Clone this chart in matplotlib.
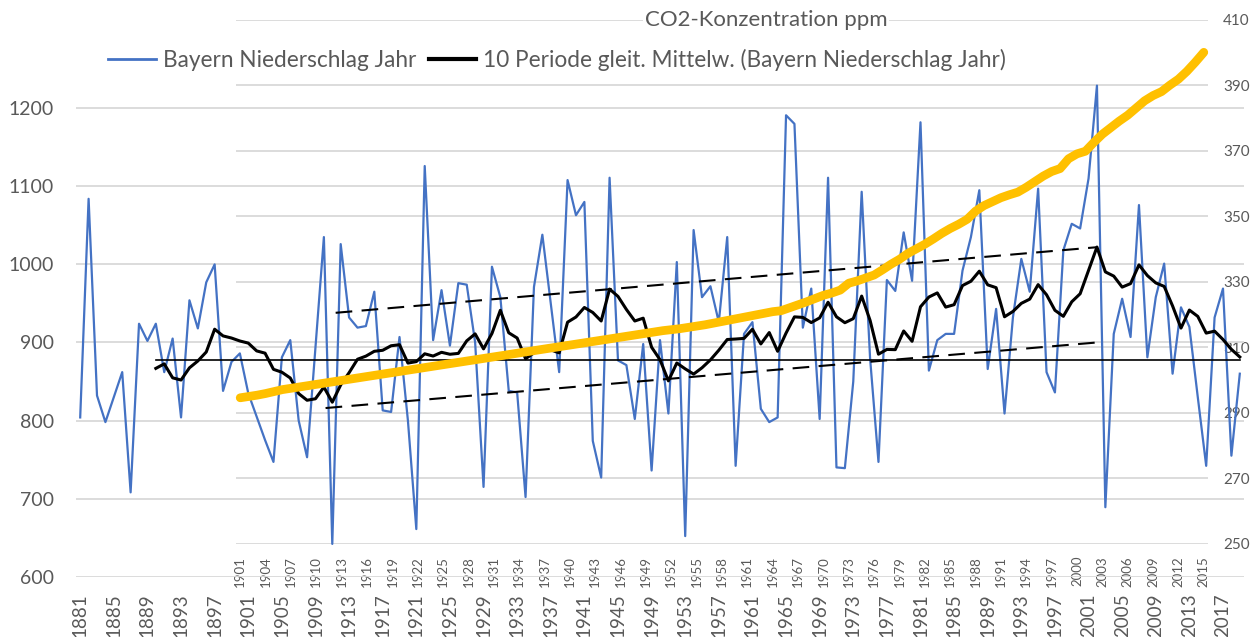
import matplotlib
matplotlib.use("Agg")
import matplotlib.pyplot as plt
import numpy as np
import pandas as pd

plt.rcParams['font.family'] = ['Lato', 'DejaVu Sans']

# Niederschlag Bayern, Jahressumme (mm), 1881-2019
jahre = np.arange(1881, 2020)
niederschlag = [
    804, 1084, 832, 798, 830, 862, 708, 924, 902, 924,      # 1881-1890
    862, 905, 804, 954, 918, 977, 1000, 838, 875, 886,      # 1891-1900
    835, 805, 775, 747, 881, 903, 800, 753, 894, 1035,      # 1901-1910
    642, 1026, 932, 919, 921, 965, 813, 811, 907, 800,      # 1911-1920
    661, 1126, 903, 967, 896, 976, 974, 900, 715, 997,      # 1921-1930
    958, 838, 836, 702, 971, 1038, 950, 862, 1108, 1063,    # 1931-1940
    1080, 774, 727, 1111, 877, 871, 802, 898, 736, 903,     # 1941-1950
    809, 1003, 652, 1044, 958, 972, 926, 1035, 742, 911,    # 1951-1960
    926, 815, 798, 804, 1191, 1180, 919, 969, 802, 1111,    # 1961-1970
    740, 739, 850, 1093, 880, 747, 980, 966, 1041, 979,     # 1971-1980
    1182, 864, 903, 911, 911, 992, 1035, 1095, 866, 943,    # 1981-1990
    809, 932, 1007, 965, 1097, 862, 836, 1018, 1052, 1046,  # 1991-2000
    1110, 1229, 689, 911, 956, 907, 1076, 881, 958, 1001,   # 2001-2010
    860, 945, 920, 830, 742, 932, 969, 755, 860,            # 2011-2019
]

# CO2-Konzentration (ppm), 1901-2015
co2_jahre = np.arange(1901, 2016)
co2 = [
    294.5, 294.9, 295.3, 295.8, 296.4, 297.0, 297.4, 297.8, 298.2, 298.6,
    299.0, 299.4, 299.8, 300.2, 300.6, 301.0, 301.4, 301.8, 302.2, 302.6,
    303.0, 303.4, 303.8, 304.2, 304.6, 305.0, 305.4, 305.8, 306.2, 306.6,
    307.0, 307.4, 307.8, 308.2, 308.6, 309.0, 309.4, 309.8, 310.2, 310.6,
    311.0, 311.4, 311.8, 312.2, 312.6, 313.0, 313.4, 313.8, 314.2, 314.6,
    315.0, 315.3, 315.6, 316.0, 316.4, 316.8, 317.3, 317.8, 318.3, 318.8,
    319.3, 319.8, 320.3, 320.8, 321.1, 322.0, 322.9, 323.8, 324.8, 325.8,
    326.5, 327.4, 329.5, 330.2, 331.1, 332.0, 333.6, 335.3, 336.8, 338.6,
    340.0, 341.4, 343.0, 344.7, 346.2, 347.5, 349.0, 351.5, 353.2, 354.4,
    355.6, 356.5, 357.3, 358.8, 360.5, 362.2, 363.6, 364.5, 367.5, 369.0,
    369.8, 372.5, 375.0, 377.0, 379.0, 380.8, 383.0, 385.2, 386.8, 388.0,
    390.0, 391.8, 394.2, 397.0, 400.0,
]

# eingezeichnete Hilfslinien
mittel_jahre = [1890, 2019]
mittel_wert = 877
trend_oben_jahre = [1911.4, 2002]
trend_oben_werte = [938, 1022]
trend_unten_jahre = [1910.2, 2002]
trend_unten_werte = [816, 900]

gleit_mittel = pd.Series(niederschlag, index=jahre).rolling(10).mean()

W, H = 1253, 637
grau = '#595959'
gitter = '#d9d9d9'

fig = plt.figure(figsize=(W / 100, H / 100), dpi=100)

# CO2-Diagramm (hinten: Gitter und Achsen)
ax2 = fig.add_axes([236 / W, (H - 543.5) / H, 972 / W, (543.5 - 19.6) / H])
ax2.set_xlim(1900.5, 2015.5)
ax2.set_ylim(250, 410)
ax2.set_yticks(np.arange(250, 411, 20))
ax2.yaxis.tick_right()
ax2.set_xticks(co2_jahre[::3])
ax2.set_xticklabels([str(j) for j in co2_jahre[::3]], rotation=90)
ax2.tick_params(axis='x', length=0, pad=9, labelsize=9.5, labelcolor=grau)
ax2.tick_params(axis='y', length=0, pad=11, labelsize=11, labelcolor=grau)
ax2.grid(axis='y', color=gitter, lw=1.3)
for s in ax2.spines.values():
    s.set_visible(False)

# Niederschlag (vorne)
ax = fig.add_axes([76 / W, (H - 576.7) / H, 1168 / W, (576.7 - 69.2) / H])
ax.patch.set_alpha(0)
ax.set_xlim(1880.5, 2019.5)
ax.set_ylim(600, 1250)
ax.set_yticks(np.arange(600, 1201, 100))
ax.set_xticks(jahre[::4])
ax.set_xticklabels([str(j) for j in jahre[::4]], rotation=90)
ax.tick_params(axis='x', length=0, pad=12, labelsize=13.5, labelcolor=grau)
ax.tick_params(axis='y', length=0, pad=16, labelsize=14, labelcolor=grau)
ax.grid(axis='y', color=gitter, lw=1.3)
ax.set_axisbelow(True)
for s in ax.spines.values():
    s.set_visible(False)

l1, = ax.plot(jahre, niederschlag, color='#4472C4', lw=1.6, zorder=2,
              label='Bayern Niederschlag Jahr')
l2, = ax.plot(jahre, gleit_mittel, color='black', lw=2.2, zorder=4,
              label='10 Periode gleit. Mittelw. (Bayern Niederschlag Jahr)')
ax.plot(mittel_jahre, [mittel_wert, mittel_wert], color='black', lw=1.2, zorder=4)
ax.plot(trend_oben_jahre, trend_oben_werte, color='black', lw=1.5,
        dashes=(8, 4.5), zorder=4)
ax.plot(trend_unten_jahre, trend_unten_werte, color='black', lw=1.5,
        dashes=(8, 4.5), zorder=4)

# CO2-Linie oben drauf
ax.plot(co2_jahre, co2, color='#FFC000', lw=6.3, solid_capstyle='round',
        transform=ax2.transData, clip_on=False, zorder=6)

fig.text(766 / W, 1 - 20 / H, 'CO2-Konzentration ppm', ha='center', va='center',
         fontsize=16, color=grau,
         bbox=dict(facecolor='white', edgecolor='none', pad=1))

leg_blau = plt.Line2D([], [], color='#4472C4', lw=2.0)
leg_schwarz = plt.Line2D([], [], color='black', lw=3.0)
fig.legend([leg_blau, leg_schwarz], [l1.get_label(), l2.get_label()],
           loc='center left', bbox_to_anchor=(88 / W, 1 - 60 / H), ncol=2,
           frameon=False, fontsize=16.3, labelcolor=grau, handlelength=2.1,
           handletextpad=0.3, columnspacing=0.55)

fig.savefig('out.png', dpi=100, facecolor='white')
